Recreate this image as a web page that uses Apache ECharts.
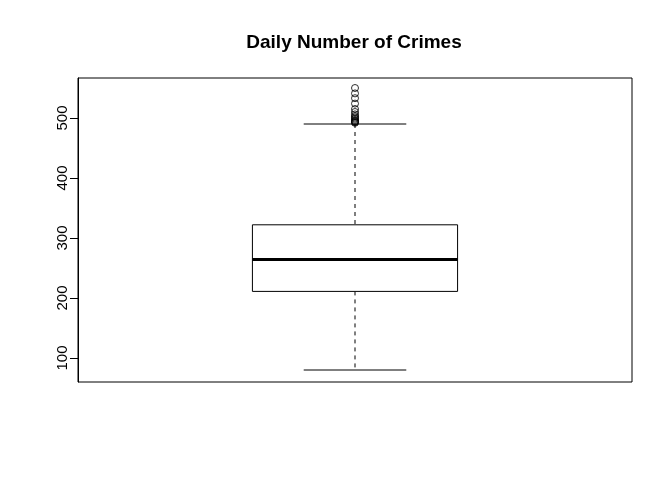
<!DOCTYPE html>
<html>
<head>
<meta charset="utf-8">
<script src="https://cdn.jsdelivr.net/npm/echarts@6/dist/echarts.min.js"></script>
<style>html,body{margin:0;padding:0;background:#fff;}#c{width:672px;height:480px;}</style>
</head>
<body>
<div id="c"></div>
<script>
const titleText = 'Daily Number of Crimes';
const yTicks = [100, 200, 300, 400, 500];
// [lower whisker, Q1, median, Q3, upper whisker]
const boxStats = [80, 211, 264, 322, 490];
const outliers = [550, 541, 533, 524, 515, 510, 506, 503, 501, 499, 497, 495, 494, 493, 492];

const chart = echarts.init(document.getElementById('c'), null, {renderer: 'canvas'});
const boxPos = 1;
const halfBox = 0.2;
const halfCap = 0.1;

chart.setOption({
  animation: false,
  backgroundColor: '#ffffff',
  title: {
    text: titleText,
    left: 349, top: 28, textAlign: 'center',
    textStyle: {fontFamily: 'Liberation Sans', fontWeight: 'bold', fontSize: 19, color: '#000'}
  },
  grid: {left: 78, right: 40, top: 78, bottom: 98, show: true, borderColor: '#000', borderWidth: 1, backgroundColor: 'transparent'},
  xAxis: {type: 'value', min: 0.46, max: 1.54, show: false},
  yAxis: {
    type: 'value', min: 60, max: 566.67,
    splitLine: {show: false},
    axisLine: {show: true, lineStyle: {color: '#000'}},
    axisTick: {show: true, length: 8, lineStyle: {color: '#000'}, customValues: yTicks},
    axisLabel: {
      customValues: yTicks, rotate: 90, margin: 8,
      fontFamily: 'Liberation Sans', fontSize: 15, color: '#000'
    }
  },
  series: [
    {
      type: 'custom',
      data: [[boxPos].concat(boxStats)],
      renderItem: function (params, api) {
        const x = api.value(0);
        const lo = api.value(1), q1 = api.value(2), med = api.value(3), q3 = api.value(4), hi = api.value(5);
        const pL = api.coord([x - halfBox, q3]);
        const pR = api.coord([x + halfBox, q1]);
        const pMedL = api.coord([x - halfBox, med]);
        const pMedR = api.coord([x + halfBox, med]);
        const pc = api.coord([x, hi]);
        const pq3 = api.coord([x, q3]);
        const pq1 = api.coord([x, q1]);
        const plo = api.coord([x, lo]);
        const capHL = api.coord([x - halfCap, hi]);
        const capHR = api.coord([x + halfCap, hi]);
        const capLL = api.coord([x - halfCap, lo]);
        const capLR = api.coord([x + halfCap, lo]);
        const ls = {stroke: '#000', lineWidth: 1, fill: null};
        return {
          type: 'group',
          children: [
            {type: 'line', shape: {x1: pc[0], y1: pc[1], x2: pq3[0], y2: pq3[1]}, style: {stroke: '#000', lineWidth: 1, lineDash: [4, 4]}},
            {type: 'line', shape: {x1: pq1[0], y1: pq1[1], x2: plo[0], y2: plo[1]}, style: {stroke: '#000', lineWidth: 1, lineDash: [4, 4]}},
            {type: 'line', shape: {x1: capHL[0], y1: capHL[1], x2: capHR[0], y2: capHR[1]}, style: ls},
            {type: 'line', shape: {x1: capLL[0], y1: capLL[1], x2: capLR[0], y2: capLR[1]}, style: ls},
            {type: 'rect', shape: {x: pL[0], y: pL[1], width: pR[0] - pL[0], height: pR[1] - pL[1]}, style: {stroke: '#000', lineWidth: 1, fill: '#fff'}},
            {type: 'line', shape: {x1: pMedL[0], y1: pMedL[1], x2: pMedR[0], y2: pMedR[1]}, style: {stroke: '#000', lineWidth: 3}}
          ]
        };
      }
    },
    {
      type: 'scatter',
      data: outliers.map(v => [boxPos, v]),
      symbol: 'circle',
      symbolSize: 7,
      itemStyle: {color: 'transparent', borderColor: '#000', borderWidth: 1}
    }
  ]
});
</script>
</body>
</html>
